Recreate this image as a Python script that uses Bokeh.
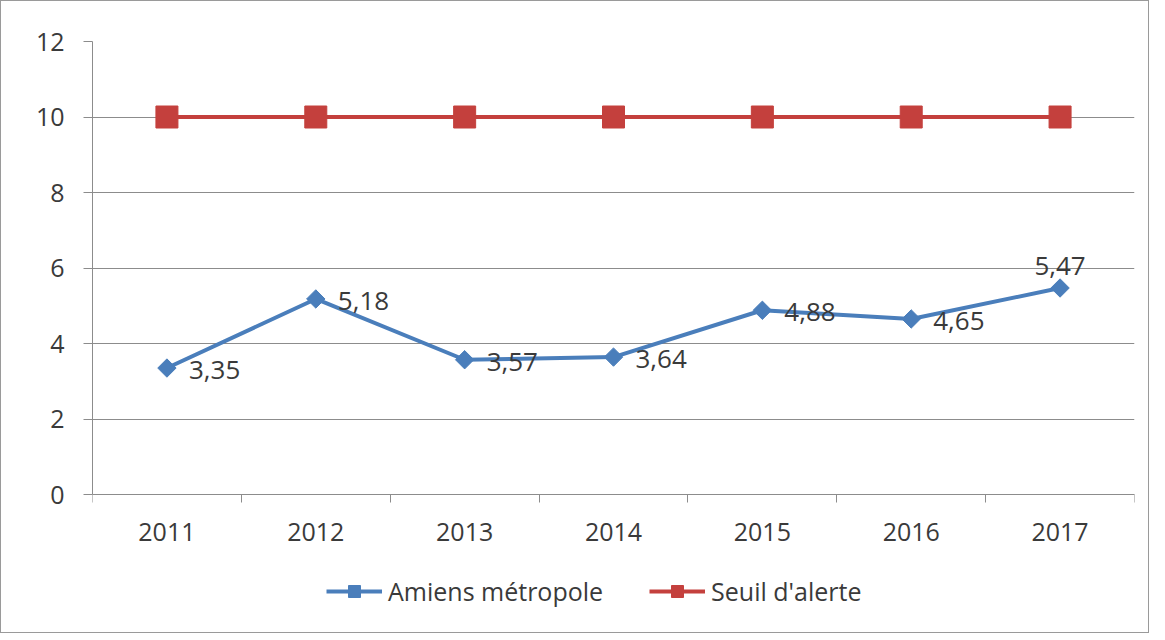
import math
from bokeh.plotting import figure
from bokeh.models import (ColumnDataSource, FixedTicker, LabelSet, Legend, LegendItem,
                          Range1d)
from bokeh.core.properties import value
from bokeh.embed import file_html
from bokeh.resources import INLINE

# ---- data ----
years = [2011, 2012, 2013, 2014, 2015, 2016, 2017]
amiens = [3.35, 5.18, 3.57, 3.64, 4.88, 4.65, 5.47]
seuil = [10, 10, 10, 10, 10, 10, 10]
y_ticks = [0, 2, 4, 6, 8, 10, 12]
series_names = ["Amiens métropole", "Seuil d'alerte"]

BLUE = "#4A7EBB"
RED = "#C4403D"
GRID = "#8C8C8C"
TXT = "#3A3A3A"
FONT = "Open Sans"

# layout: value axis 0..12 spans 453 px; frame continues below to hold labels + legend
AXIS_PX = 453
FRAME_H = 591
y_start = y_ticks[-1] - FRAME_H * (y_ticks[-1] - y_ticks[0]) / AXIS_PX

p = figure(frame_width=1042, frame_height=FRAME_H, output_backend="svg",
           toolbar_location=None,
           x_range=Range1d(years[0] - 0.5, years[-1] + 0.5),
           y_range=Range1d(y_start, y_ticks[-1]),
           min_border_left=91, min_border_right=14, min_border_top=40,
           min_border_bottom=0)
p.styles = {"border": "1px solid #9a9a9a"}
p.outline_line_color = None
p.background_fill_color = "white"
p.border_fill_color = "white"

# axes
p.xaxis.fixed_location = 0
p.xaxis.ticker = FixedTicker(ticks=years,
                             minor_ticks=[y - 0.5 for y in years] + [years[-1] + 0.5])
p.xaxis.major_tick_line_color = None
p.xaxis.major_tick_out = 0
p.xaxis.major_tick_in = 0
p.xaxis.minor_tick_out = 8
p.xaxis.minor_tick_in = 0
p.xaxis.minor_tick_line_color = GRID
p.xaxis.axis_line_color = GRID
p.xaxis.major_label_standoff = 20
p.yaxis.ticker = FixedTicker(ticks=y_ticks)
p.yaxis.bounds = (y_ticks[0], y_ticks[-1])
p.yaxis.major_tick_out = 9
p.yaxis.major_tick_in = 0
p.yaxis.minor_tick_line_color = None
p.yaxis.major_tick_line_color = GRID
p.yaxis.axis_line_color = GRID
p.yaxis.major_label_standoff = 19
for ax in (p.xaxis, p.yaxis):
    ax.major_label_text_font = FONT
    ax.major_label_text_font_size = "25px"
    ax.major_label_text_color = TXT

p.xgrid.grid_line_color = None
p.ygrid.ticker = FixedTicker(ticks=y_ticks)
p.ygrid.grid_line_color = GRID
p.ygrid.grid_line_width = 1

# series
r_bl = p.line(years, amiens, line_color=BLUE, line_width=4)
r_bm = p.scatter(years, amiens, marker="square", angle=math.pi / 4, size=13,
                 fill_color=BLUE, line_color=BLUE)
r_rl = p.line(years, seuil, line_color=RED, line_width=4)
r_rm = p.scatter(years, seuil, marker="square", size=22, fill_color=RED, line_color=RED)

# data labels
labels = [f"{v:.2f}".replace(".", ",") for v in amiens]
src_right = ColumnDataSource(dict(x=years[:-1], y=amiens[:-1], t=labels[:-1]))
src_top = ColumnDataSource(dict(x=years[-1:], y=amiens[-1:], t=labels[-1:]))
ls1 = LabelSet(x="x", y="y", text="t", source=src_right, x_offset=22, y_offset=-2,
               text_align="left", text_baseline="middle", text_font=value(FONT),
               text_font_size=value("26px"), text_color=value(TXT))
ls2 = LabelSet(x="x", y="y", text="t", source=src_top, x_offset=0, y_offset=13,
               text_align="center", text_baseline="bottom", text_font=value(FONT),
               text_font_size=value("26px"), text_color=value(TXT))
p.add_layout(ls1)
p.add_layout(ls2)

legend = Legend(items=[LegendItem(label=series_names[0], renderers=[r_bl, r_bm]),
                       LegendItem(label=series_names[1], renderers=[r_rl, r_rm])],
                orientation="horizontal", location=(234, 24),
                label_text_font=FONT, label_text_font_size="25px",
                label_text_color=TXT, glyph_width=56, glyph_height=30,
                label_standoff=6, spacing=46, padding=0, margin=0,
                border_line_color=None, background_fill_alpha=0)
p.add_layout(legend, "center")

open("out.html", "w").write(file_html(p, INLINE))
